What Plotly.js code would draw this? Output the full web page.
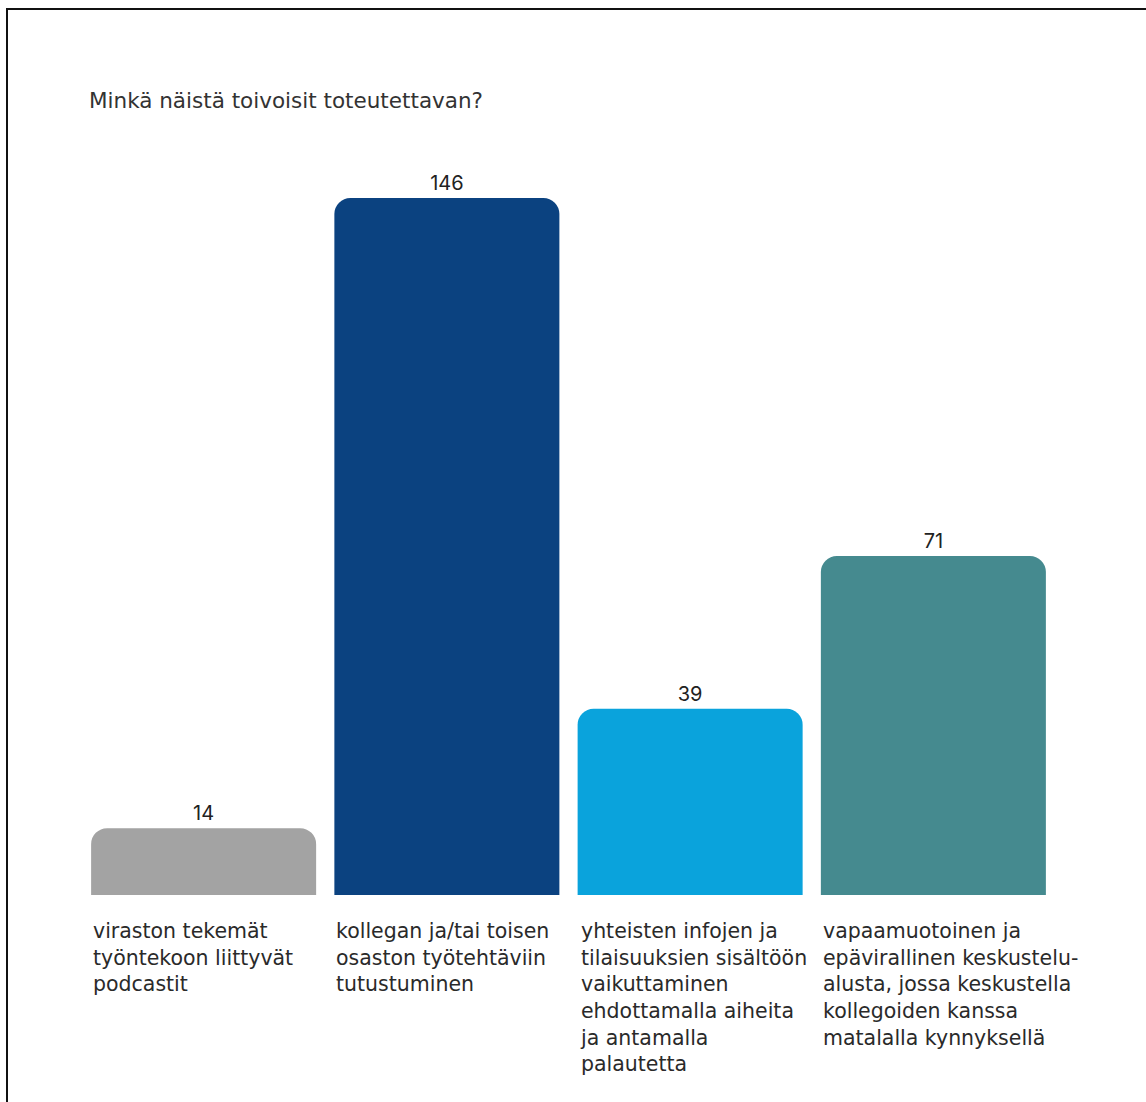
<!DOCTYPE html>
<html>
<head>
<meta charset="utf-8">
<script src="https://cdn.plot.ly/plotly-3.0.1.min.js"></script>
<style>
  html, body { margin: 0; padding: 0; background: #fff; }
  #wrap { position: relative; width: 1146px; height: 1102px; overflow: hidden; }
  #chart { width: 1146px; height: 1102px; }
  #frame { position: absolute; left: 6px; top: 8px; right: -10px; bottom: -10px;
           border-top: 2px solid #111; border-left: 2px solid #111; pointer-events: none; }
</style>
</head>
<body>
<div id="wrap"><div id="chart"></div><div id="frame"></div></div>
<script>
const titleText = "Minkä näistä toivoisit toteutettavan?";
const categories = [
  "viraston tekemät<br>työntekoon liittyvät<br>podcastit",
  "kollegan ja/tai toisen<br>osaston työtehtäviin<br>tutustuminen",
  "yhteisten infojen ja<br>tilaisuuksien sisältöön<br>vaikuttaminen<br>ehdottamalla aiheita<br>ja antamalla<br>palautetta",
  "vapaamuotoinen ja<br>epävirallinen keskustelu-<br>alusta, jossa keskustella<br>kollegoiden kanssa<br>matalalla kynnyksellä"
];
const values = [14, 146, 39, 71];
const colors = ["#a3a3a3", "#0b4280", "#0aa3dc", "#458a8f"];

const FONT = "'DejaVu Sans', Inter, sans-serif";
const NUMFONT = "Inter, 'Open Sans', sans-serif";
const bargap = 0.075;
const xs = categories.map((c, i) => i);

const trace = {
  type: "bar",
  x: xs,
  y: values,
  text: values.map(String),
  textposition: "outside",
  textfont: { family: NUMFONT, size: 20, color: "#222" },
  cliponaxis: false,
  marker: { color: colors, cornerradius: 16 },
  hoverinfo: "skip"
};

const annotations = categories.map((c, i) => ({
  xref: "x", yref: "paper",
  x: i - (1 - bargap) / 2, y: -0.031,
  xanchor: "left", yanchor: "top", align: "left",
  showarrow: false,
  text: c,
  font: { family: FONT, size: 20.5, color: "#2a2a2a" }
}));

const layout = {
  width: 1146, height: 1102,
  margin: { l: 82, r: 91, t: 179, b: 207 },
  paper_bgcolor: "#fff", plot_bgcolor: "#fff",
  bargap: bargap,
  showlegend: false,
  title: {
    text: titleText,
    xref: "container", yref: "container",
    x: 89 / 1146, xanchor: "left",
    y: 1 - 100 / 1102, yanchor: "middle",
    font: { family: FONT, size: 21.5, color: "#333" }
  },
  xaxis: { range: [-0.5, 3.5], showticklabels: false, showgrid: false, zeroline: false, showline: false, ticks: "" },
  yaxis: { range: [0, 150], showticklabels: false, showgrid: false, zeroline: false, showline: false, ticks: "" },
  annotations: annotations
};

Plotly.newPlot("chart", [trace], layout, { displayModeBar: false, staticPlot: true });
</script>
</body>
</html>
